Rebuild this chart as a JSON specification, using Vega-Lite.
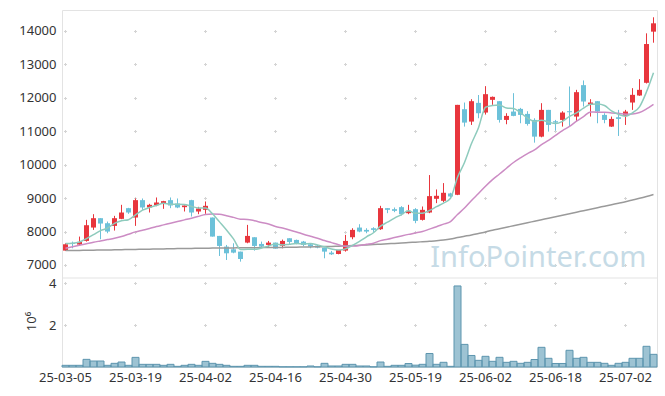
{
  "$schema": "https://vega.github.io/schema/vega-lite/v6.json",
  "width": 595,
  "height": 357,
  "autosize": {"type": "none"},
  "padding": {"left": 62, "top": 10, "right": 8, "bottom": 29},
  "background": "white",
  "config": {
    "view": {"stroke": "#e3e3e3", "strokeWidth": 1},
    "font": "Noto Sans",
    "axis": {"labelFont": "Noto Sans", "labelFontSize": 13, "labelColor": "#333333", "titleFont": "Noto Sans", "titleFontSize": 13, "titleFontWeight": "normal", "titleColor": "#333333"}
  },
  "data": {"values": [
    {"d":"2025-03-05","o":7430,"h":7650,"l":7420,"c":7620,"v":80000,"m5":7640,"m20":7500,"m60":7430},
    {"d":"2025-03-06","o":7660,"h":7700,"l":7500,"c":7630,"v":80000,"m5":7650,"m20":7545,"m60":7433},
    {"d":"2025-03-07","o":7610,"h":7850,"l":7580,"c":7690,"v":80000,"m5":7690,"m20":7590,"m60":7436},
    {"d":"2025-03-10","o":7720,"h":8350,"l":7700,"c":8190,"v":365000,"m5":7790,"m20":7635,"m60":7440},
    {"d":"2025-03-11","o":8120,"h":8520,"l":8050,"c":8400,"v":286000,"m5":7906,"m20":7680,"m60":7443},
    {"d":"2025-03-12","o":8400,"h":8400,"l":7770,"c":8240,"v":286000,"m5":8030,"m20":7720,"m60":7447},
    {"d":"2025-03-13","o":8250,"h":8300,"l":7950,"c":8000,"v":80000,"m5":8104,"m20":7760,"m60":7450},
    {"d":"2025-03-14","o":8170,"h":8470,"l":8030,"c":8400,"v":175000,"m5":8246,"m20":7800,"m60":7454},
    {"d":"2025-03-17","o":8380,"h":8800,"l":8370,"c":8570,"v":238000,"m5":8322,"m20":7850,"m60":7458},
    {"d":"2025-03-18","o":8700,"h":8710,"l":8530,"c":8570,"v":80000,"m5":8356,"m20":7920,"m60":7462},
    {"d":"2025-03-19","o":8420,"h":8990,"l":8170,"c":8940,"v":460000,"m5":8496,"m20":7990,"m60":7466},
    {"d":"2025-03-20","o":8940,"h":8990,"l":8650,"c":8720,"v":127000,"m5":8640,"m20":8040,"m60":7470},
    {"d":"2025-03-21","o":8720,"h":8830,"l":8570,"c":8800,"v":127000,"m5":8720,"m20":8090,"m60":7474},
    {"d":"2025-03-24","o":8790,"h":9020,"l":8760,"c":8870,"v":127000,"m5":8780,"m20":8150,"m60":7478},
    {"d":"2025-03-25","o":8830,"h":8920,"l":8680,"c":8910,"v":80000,"m5":8848,"m20":8200,"m60":7482},
    {"d":"2025-03-26","o":8940,"h":9020,"l":8700,"c":8780,"v":127000,"m5":8816,"m20":8250,"m60":7486},
    {"d":"2025-03-27","o":8840,"h":8990,"l":8700,"c":8720,"v":32000,"m5":8816,"m20":8300,"m60":7490},
    {"d":"2025-03-28","o":8730,"h":8780,"l":8600,"c":8780,"v":80000,"m5":8812,"m20":8350,"m60":7494},
    {"d":"2025-03-31","o":8940,"h":8950,"l":8450,"c":8570,"v":127000,"m5":8752,"m20":8400,"m60":7497},
    {"d":"2025-04-01","o":8600,"h":8740,"l":8520,"c":8690,"v":80000,"m5":8708,"m20":8455,"m60":7500},
    {"d":"2025-04-02","o":8650,"h":8900,"l":8530,"c":8770,"v":270000,"m5":8706,"m20":8512,"m60":7503},
    {"d":"2025-04-03","o":8420,"h":8420,"l":7850,"c":7850,"v":175000,"m5":8532,"m20":8523,"m60":7506},
    {"d":"2025-04-04","o":7870,"h":7870,"l":7270,"c":7570,"v":127000,"m5":8290,"m20":8517,"m60":7508},
    {"d":"2025-04-07","o":7550,"h":7600,"l":7150,"c":7350,"v":80000,"m5":8046,"m20":8475,"m60":7510},
    {"d":"2025-04-08","o":7470,"h":7650,"l":7350,"c":7370,"v":32000,"m5":7782,"m20":8424,"m60":7512},
    {"d":"2025-04-09","o":7400,"h":7400,"l":7100,"c":7180,"v":32000,"m5":7464,"m20":8371,"m60":7514},
    {"d":"2025-04-10","o":7670,"h":8200,"l":7650,"c":7870,"v":80000,"m5":7468,"m20":8364,"m60":7516},
    {"d":"2025-04-11","o":7830,"h":7830,"l":7430,"c":7570,"v":80000,"m5":7468,"m20":8323,"m60":7518},
    {"d":"2025-04-14","o":7630,"h":7700,"l":7500,"c":7550,"v":32000,"m5":7508,"m20":8272,"m60":7520},
    {"d":"2025-04-15","o":7600,"h":7720,"l":7520,"c":7670,"v":32000,"m5":7568,"m20":8227,"m60":7522},
    {"d":"2025-04-16","o":7670,"h":7670,"l":7490,"c":7490,"v":32000,"m5":7630,"m20":8154,"m60":7524},
    {"d":"2025-04-17","o":7570,"h":7760,"l":7500,"c":7720,"v":10000,"m5":7600,"m20":8104,"m60":7527},
    {"d":"2025-04-18","o":7800,"h":7800,"l":7600,"c":7690,"v":10000,"m5":7624,"m20":8049,"m60":7530},
    {"d":"2025-04-21","o":7750,"h":7760,"l":7620,"c":7650,"v":10000,"m5":7644,"m20":7988,"m60":7533},
    {"d":"2025-04-22","o":7700,"h":7720,"l":7560,"c":7600,"v":10000,"m5":7630,"m20":7922,"m60":7537},
    {"d":"2025-04-23","o":7620,"h":7650,"l":7500,"c":7550,"v":48000,"m5":7642,"m20":7861,"m60":7541},
    {"d":"2025-04-24","o":7580,"h":7600,"l":7500,"c":7520,"v":10000,"m5":7602,"m20":7801,"m60":7546},
    {"d":"2025-04-25","o":7520,"h":7520,"l":7200,"c":7400,"v":175000,"m5":7544,"m20":7732,"m60":7551},
    {"d":"2025-04-28","o":7370,"h":7420,"l":7300,"c":7320,"v":48000,"m5":7478,"m20":7669,"m60":7557},
    {"d":"2025-04-29","o":7330,"h":7450,"l":7320,"c":7450,"v":48000,"m5":7448,"m20":7607,"m60":7564},
    {"d":"2025-04-30","o":7430,"h":7900,"l":7400,"c":7720,"v":127000,"m5":7482,"m20":7555,"m60":7572},
    {"d":"2025-05-02","o":7830,"h":8100,"l":7770,"c":8050,"v":127000,"m5":7588,"m20":7565,"m60":7580},
    {"d":"2025-05-07","o":8120,"h":8220,"l":7980,"c":8000,"v":48000,"m5":7708,"m20":7586,"m60":7590},
    {"d":"2025-05-08","o":8050,"h":8100,"l":7950,"c":8000,"v":48000,"m5":7844,"m20":7619,"m60":7600},
    {"d":"2025-05-09","o":8100,"h":8130,"l":7990,"c":8050,"v":10000,"m5":7964,"m20":7653,"m60":7610},
    {"d":"2025-05-12","o":8070,"h":8770,"l":8050,"c":8700,"v":238000,"m5":8160,"m20":7729,"m60":7622},
    {"d":"2025-05-13","o":8700,"h":8700,"l":8550,"c":8650,"v":32000,"m5":8280,"m20":7768,"m60":7634},
    {"d":"2025-05-14","o":8670,"h":8720,"l":8580,"c":8620,"v":80000,"m5":8404,"m20":7820,"m60":7646},
    {"d":"2025-05-15","o":8730,"h":8760,"l":8480,"c":8520,"v":80000,"m5":8508,"m20":7869,"m60":7658},
    {"d":"2025-05-16","o":8550,"h":8800,"l":8520,"c":8620,"v":165000,"m5":8622,"m20":7916,"m60":7670},
    {"d":"2025-05-19","o":8670,"h":8700,"l":8250,"c":8320,"v":88000,"m5":8546,"m20":7958,"m60":7683},
    {"d":"2025-05-20","o":8350,"h":8750,"l":8330,"c":8650,"v":128000,"m5":8546,"m20":8004,"m60":7696},
    {"d":"2025-05-21","o":8570,"h":9690,"l":8550,"c":9060,"v":645000,"m5":8634,"m20":8073,"m60":7710},
    {"d":"2025-05-22","o":8980,"h":9260,"l":8850,"c":9070,"v":128000,"m5":8744,"m20":8144,"m60":7725},
    {"d":"2025-05-23","o":8920,"h":9450,"l":8880,"c":9160,"v":224000,"m5":8852,"m20":8222,"m60":7745},
    {"d":"2025-05-26","o":9140,"h":9160,"l":9030,"c":9050,"v":32000,"m5":8998,"m20":8297,"m60":7775},
    {"d":"2025-05-27","o":9100,"h":11790,"l":9090,"c":11790,"v":3870000,"m5":9626,"m20":8510,"m60":7820},
    {"d":"2025-05-28","o":11660,"h":11860,"l":11140,"c":11260,"v":1080000,"m5":10066,"m20":8703,"m60":7860},
    {"d":"2025-05-29","o":11290,"h":11960,"l":11190,"c":11900,"v":550000,"m5":10632,"m20":8932,"m60":7900},
    {"d":"2025-05-30","o":11850,"h":12085,"l":11390,"c":11540,"v":318000,"m5":11108,"m20":9137,"m60":7945},
    {"d":"2025-06-02","o":11560,"h":12350,"l":11500,"c":12110,"v":510000,"m5":11720,"m20":9356,"m60":7990},
    {"d":"2025-06-04","o":11940,"h":12040,"l":11790,"c":12030,"v":271000,"m5":11768,"m20":9555,"m60":8040},
    {"d":"2025-06-05","o":11900,"h":11900,"l":11260,"c":11340,"v":462000,"m5":11784,"m20":9722,"m60":8085},
    {"d":"2025-06-09","o":11340,"h":11540,"l":11210,"c":11460,"v":223000,"m5":11696,"m20":9895,"m60":8130},
    {"d":"2025-06-10","o":11590,"h":12140,"l":11450,"c":11460,"v":271000,"m5":11680,"m20":10066,"m60":8175},
    {"d":"2025-06-11","o":11670,"h":11700,"l":11240,"c":11490,"v":176000,"m5":11556,"m20":10205,"m60":8220},
    {"d":"2025-06-12","o":11520,"h":11600,"l":11170,"c":11220,"v":223000,"m5":11394,"m20":10334,"m60":8265},
    {"d":"2025-06-13","o":11340,"h":11390,"l":10660,"c":10840,"v":358000,"m5":11294,"m20":10445,"m60":8310},
    {"d":"2025-06-16","o":10840,"h":11840,"l":10820,"c":11640,"v":940000,"m5":11330,"m20":10601,"m60":8355},
    {"d":"2025-06-17","o":11640,"h":11640,"l":10990,"c":11190,"v":415000,"m5":11276,"m20":10729,"m60":8400},
    {"d":"2025-06-18","o":11300,"h":11340,"l":11020,"c":11260,"v":168000,"m5":11230,"m20":10876,"m60":8445},
    {"d":"2025-06-19","o":11340,"h":11600,"l":11140,"c":11560,"v":168000,"m5":11298,"m20":11022,"m60":8490},
    {"d":"2025-06-20","o":11600,"h":12340,"l":11140,"c":11570,"v":797000,"m5":11444,"m20":11147,"m60":8535},
    {"d":"2025-06-23","o":11440,"h":12240,"l":11290,"c":12170,"v":415000,"m5":11550,"m20":11302,"m60":8580},
    {"d":"2025-06-24","o":12380,"h":12520,"l":11740,"c":11890,"v":462000,"m5":11690,"m20":11439,"m60":8625},
    {"d":"2025-06-25","o":11800,"h":11960,"l":11440,"c":11860,"v":223000,"m5":11810,"m20":11579,"m60":8670},
    {"d":"2025-06-26","o":11900,"h":11900,"l":11240,"c":11590,"v":223000,"m5":11816,"m20":11569,"m60":8715},
    {"d":"2025-06-27","o":11490,"h":11540,"l":11240,"c":11340,"v":176000,"m5":11770,"m20":11573,"m60":8760},
    {"d":"2025-06-30","o":11140,"h":11440,"l":11130,"c":11370,"v":80000,"m5":11610,"m20":11547,"m60":8805},
    {"d":"2025-07-01","o":11420,"h":11640,"l":10860,"c":11370,"v":176000,"m5":11506,"m20":11538,"m60":8850},
    {"d":"2025-07-02","o":11460,"h":11640,"l":11190,"c":11590,"v":223000,"m5":11452,"m20":11512,"m60":8895},
    {"d":"2025-07-03","o":11860,"h":12290,"l":11640,"c":12090,"v":415000,"m5":11552,"m20":11515,"m60":8945},
    {"d":"2025-07-04","o":12070,"h":12560,"l":12060,"c":12240,"v":415000,"m5":11732,"m20":11560,"m60":8995},
    {"d":"2025-07-07","o":12450,"h":13930,"l":12430,"c":13610,"v":988000,"m5":12180,"m20":11668,"m60":9050},
    {"d":"2025-07-08","o":13980,"h":14410,"l":13650,"c":14230,"v":605000,"m5":12752,"m20":11806,"m60":9110}
  ]},
  "layer": [
    {
      "layer": [
        {
          "data": {"values": [{"t": "InfoPointer.com"}]},
          "mark": {"type": "text", "font": "Noto Sans", "fontSize": 29, "color": "#c6dbe6", "align": "right", "baseline": "alphabetic"},
          "encoding": {
            "text": {"field": "t"},
            "x": {"datum": "2025-07-07", "type": "ordinal", "title": null, "scale": {"paddingInner": 0, "paddingOuter": 0},
              "axis": {"values": ["2025-03-05","2025-03-19","2025-04-02","2025-04-16","2025-04-30","2025-05-19","2025-06-02","2025-06-18","2025-07-02"], "labelExpr": "substring(datum.label, 2)", "labelAngle": 0, "ticks": false, "domain": false, "grid": false, "labelPadding": 4, "labelOverlap": false, "title": null}},
            "y": {"datum": 6940, "type": "quantitative", "title": null, "scale": {"domain": [6611, 14628], "range": [268, 0], "nice": false, "zero": false},
              "axis": {"orient": "left", "values": [7000,8000,9000,10000,11000,12000,13000,14000], "format": "d", "title": null, "ticks": false, "domain": false, "labelPadding": 6, "grid": true, "gridColor": "#d4d4d4", "gridWidth": 1, "gridDash": [3, 67], "gridDashOffset": 68.5}}
          }
        },
        {
          "data": {"values": [{"t": "sep"}]},
          "mark": {"type": "rule", "color": "#e3e3e3", "strokeWidth": 1},
          "encoding": {
            "y": {"datum": 6611, "type": "quantitative", "title": null}
          }
        },
        {
          "mark": {"type": "rule", "strokeWidth": 1},
          "encoding": {
            "x": {"field": "d", "type": "ordinal", "title": null, "scale": {"paddingInner": 0, "paddingOuter": 0},
              "axis": {"values": ["2025-03-05","2025-03-19","2025-04-02","2025-04-16","2025-04-30","2025-05-19","2025-06-02","2025-06-18","2025-07-02"], "labelExpr": "substring(datum.label, 2)", "labelAngle": 0, "ticks": false, "domain": false, "grid": false, "labelPadding": 4, "labelOverlap": false, "title": null}},
            "y": {"field": "l", "type": "quantitative", "title": null},
            "y2": {"field": "h"},
            "color": {"condition": {"test": "datum.c >= datum.o", "value": "#e8363d"}, "value": "#6cc1d9"}
          }
        },
        {
          "mark": {"type": "bar", "size": 5},
          "encoding": {
            "x": {"field": "d", "type": "ordinal", "title": null, "scale": {"paddingInner": 0, "paddingOuter": 0},
              "axis": {"values": ["2025-03-05","2025-03-19","2025-04-02","2025-04-16","2025-04-30","2025-05-19","2025-06-02","2025-06-18","2025-07-02"], "labelExpr": "substring(datum.label, 2)", "labelAngle": 0, "ticks": false, "domain": false, "grid": false, "labelPadding": 4, "labelOverlap": false, "title": null}},
            "y": {"field": "o", "type": "quantitative", "title": null},
            "y2": {"field": "c"},
            "color": {"condition": {"test": "datum.c >= datum.o", "value": "#e8363d"}, "value": "#6cc1d9"}
          }
        }
      ]
    },
    {
      "encoding": {
        "x": {"field": "d", "type": "ordinal", "title": null, "scale": {"paddingInner": 0, "paddingOuter": 0},
          "axis": {"values": ["2025-03-05","2025-03-19","2025-04-02","2025-04-16","2025-04-30","2025-05-19","2025-06-02","2025-06-18","2025-07-02"], "labelExpr": "substring(datum.label, 2)", "labelAngle": 0, "ticks": false, "domain": false, "grid": false, "labelPadding": 4, "labelOverlap": false, "title": null}}
      },
      "layer": [
        {
          "mark": {"type": "line", "color": "#9a9a9a", "strokeWidth": 1.5, "interpolate": "monotone"},
          "encoding": {
            "y": {"field": "m60", "type": "quantitative", "title": null, "scale": {"domain": [6611, 14628], "range": [268, 0], "nice": false, "zero": false},
              "axis": {"orient": "left", "values": [7000,8000,9000,10000,11000,12000,13000,14000], "title": null, "labels": false, "ticks": false, "domain": false, "grid": true, "gridColor": "#d4d4d4", "gridWidth": 3, "gridDash": [1, 69], "gridDashOffset": 67.5}}
          }
        },
        {
          "mark": {"type": "line", "color": "#cc8cc4", "strokeWidth": 1.5, "interpolate": "monotone"},
          "encoding": {
            "y": {"field": "m20", "type": "quantitative", "title": null}
          }
        },
        {
          "mark": {"type": "line", "color": "#8ecbbd", "strokeWidth": 1.5, "interpolate": "monotone"},
          "encoding": {
            "y": {"field": "m5", "type": "quantitative", "title": null}
          }
        }
      ]
    },
    {
      "mark": {"type": "bar", "color": "#9dc3d3"},
      "encoding": {
        "x": {"field": "d", "type": "ordinal", "title": null, "scale": {"paddingInner": 0, "paddingOuter": 0},
          "axis": {"values": ["2025-03-05","2025-03-19","2025-04-02","2025-04-16","2025-04-30","2025-05-19","2025-06-02","2025-06-18","2025-07-02"], "labelExpr": "substring(datum.label, 2)", "labelAngle": 0, "ticks": false, "domain": false, "grid": false, "labelPadding": 4, "labelOverlap": false, "title": null}},
        "y": {"field": "v", "type": "quantitative", "title": "10⁶", "scale": {"domain": [0, 4250000], "range": [357, 268], "nice": false, "zero": true},
          "axis": {"orient": "left", "values": [2000000, 4000000], "labelExpr": "format(datum.value / 1000000, 'd')", "title": "10⁶", "titleX": -31, "titleY": 311, "titleAngle": 270, "titleAlign": "center", "titleBaseline": "middle", "ticks": false, "domain": false, "labelPadding": 6, "grid": true, "gridColor": "#d4d4d4", "gridWidth": 1, "gridDash": [3, 67], "gridDashOffset": 68.5}}
      }
    },
    {
      "mark": {"type": "bar", "fillOpacity": 0, "stroke": "#5d95ae", "strokeWidth": 1},
      "encoding": {
        "x": {"field": "d", "type": "ordinal", "title": null, "scale": {"paddingInner": 0, "paddingOuter": 0},
          "axis": {"values": ["2025-03-05","2025-03-19","2025-04-02","2025-04-16","2025-04-30","2025-05-19","2025-06-02","2025-06-18","2025-07-02"], "labelExpr": "substring(datum.label, 2)", "labelAngle": 0, "ticks": false, "domain": false, "grid": false, "labelPadding": 4, "labelOverlap": false, "title": null}},
        "y": {"field": "v", "type": "quantitative", "title": null, "scale": {"domain": [0, 4250000], "range": [357, 268], "nice": false, "zero": true},
          "axis": {"orient": "left", "values": [2000000, 4000000], "title": null, "labels": false, "ticks": false, "domain": false, "grid": true, "gridColor": "#d4d4d4", "gridWidth": 3, "gridDash": [1, 69], "gridDashOffset": 67.5}}
      }
    }
  ],
  "resolve": {"scale": {"y": "independent"}, "axis": {"y": "independent"}}
}
